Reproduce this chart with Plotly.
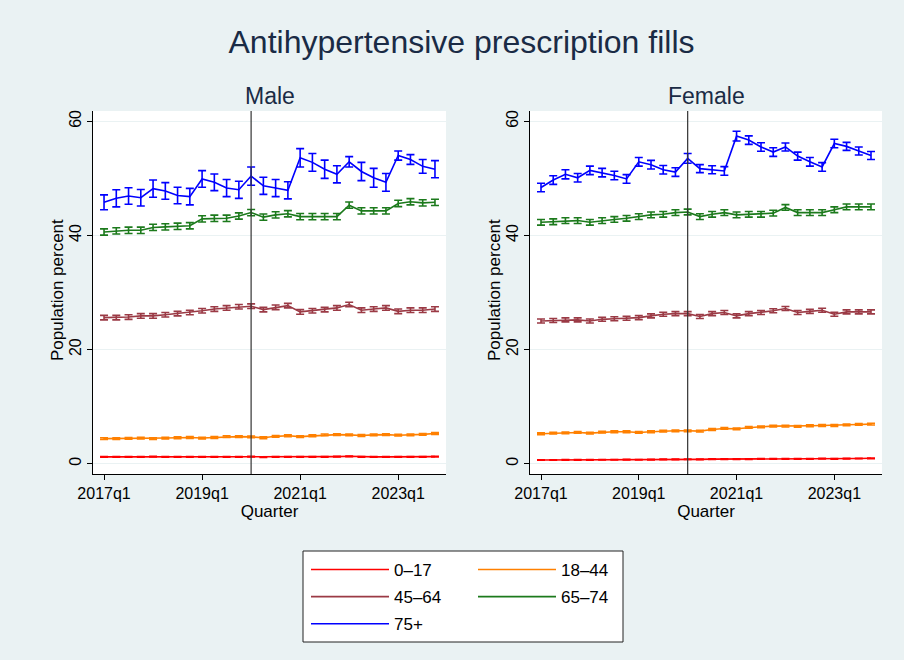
import plotly.graph_objects as go

quarters = [f"{y}q{q}" for y in range(2017, 2024) for q in range(1, 5)]
tick_labels = ["2017q1", "2019q1", "2021q1", "2023q1"]
policy_quarter = "2020q1"

groups = ["0–17", "18–44", "45–64", "65–74", "75+"]
colors = {"0–17": "#ff0000", "18–44": "#ff8000", "45–64": "#9b3a45",
          "65–74": "#1c7a1c", "75+": "#0000ff"}

male_0_17 = [1.2, 1.2, 1.2, 1.2, 1.25, 1.2, 1.2, 1.2, 1.2, 1.2, 1.2, 1.2, 1.25, 1.15, 1.2, 1.2,
             1.2, 1.2, 1.2, 1.25, 1.3, 1.2, 1.2, 1.2, 1.2, 1.2, 1.2, 1.25]
male_18_44 = [4.4, 4.4, 4.45, 4.5, 4.4, 4.5, 4.55, 4.6, 4.5, 4.6, 4.75, 4.75, 4.7, 4.55, 4.8, 4.9,
              4.75, 4.9, 5.05, 5.1, 5.05, 4.95, 5.05, 5.1, 5.0, 5.05, 5.15, 5.3]
male_45_64 = [25.6, 25.6, 25.7, 25.9, 25.9, 26.1, 26.3, 26.5, 26.8, 27.1, 27.3, 27.5, 27.6, 27.0,
              27.4, 27.7, 26.6, 26.8, 27.0, 27.3, 27.9, 26.9, 27.1, 27.3, 26.7, 26.9, 26.9, 27.1]
male_65_74 = [40.6, 40.8, 40.9, 40.9, 41.4, 41.5, 41.6, 41.7, 42.9, 43.0, 43.0, 43.4, 44.0, 43.2,
              43.6, 43.8, 43.3, 43.3, 43.3, 43.3, 45.3, 44.3, 44.3, 44.3, 45.6, 45.9, 45.7, 45.8]
male_75 = [45.8, 46.5, 46.9, 46.6, 48.2, 47.8, 47.0, 46.8, 49.9, 49.3, 48.3, 48.0, 50.4, 48.7,
           48.3, 47.9, 53.6, 52.8, 51.6, 50.7, 52.9, 51.2, 50.1, 49.3, 54.0, 53.3, 52.1, 51.6]

female_0_17 = [0.65, 0.65, 0.66, 0.68, 0.68, 0.7, 0.7, 0.72, 0.7, 0.72, 0.75, 0.76, 0.78, 0.76,
               0.8, 0.8, 0.82, 0.82, 0.84, 0.86, 0.86, 0.86, 0.86, 0.88, 0.86, 0.9, 0.92, 0.95]
female_18_44 = [5.25, 5.36, 5.42, 5.48, 5.36, 5.54, 5.6, 5.6, 5.48, 5.6, 5.72, 5.77, 5.77, 5.71,
                6.0, 6.18, 6.12, 6.36, 6.47, 6.59, 6.59, 6.53, 6.65, 6.7, 6.7, 6.82, 6.88, 6.94]
female_45_64 = [25.0, 25.1, 25.2, 25.2, 25.0, 25.3, 25.4, 25.5, 25.6, 25.9, 26.2, 26.3, 26.3, 25.8,
                26.3, 26.5, 25.9, 26.3, 26.5, 26.8, 27.2, 26.5, 26.7, 26.9, 26.2, 26.6, 26.6, 26.6]
female_65_74 = [42.3, 42.4, 42.6, 42.6, 42.3, 42.6, 42.8, 43.0, 43.3, 43.6, 43.7, 44.0, 44.1, 43.3,
                43.7, 44.0, 43.6, 43.7, 43.7, 43.9, 44.9, 44.0, 44.0, 44.0, 44.5, 45.0, 45.0, 45.0]
female_75 = [48.4, 49.7, 50.7, 50.1, 51.4, 51.0, 50.5, 49.9, 52.9, 52.4, 51.5, 51.1, 53.5, 51.7,
             51.5, 51.3, 57.4, 56.7, 55.5, 54.6, 55.5, 53.9, 52.9, 52.0, 56.1, 55.6, 54.8, 54.0]

# 95% CI half-widths
male_err_0_17 = [0.06] * 28
male_err_18_44 = [0.15] * 28
male_err_45_64 = [0.4] * 28
male_err_65_74 = [0.55] * 28
male_err_75 = [1.3, 1.5, 1.45, 1.45, 1.5, 1.45, 1.45, 1.45, 1.45, 1.45, 1.5, 1.5, 1.6, 1.5,
               1.5, 1.5, 1.6, 1.55, 1.6, 1.5, 0.9, 1.6, 1.65, 1.55, 0.8, 0.85, 1.2, 1.5]
female_err_0_17 = [0.05] * 28
female_err_18_44 = [0.15] * 28
female_err_45_64 = [0.35] * 28
female_err_65_74 = [0.5] * 28
female_err_75 = [0.75, 0.75, 0.8, 0.75, 0.75, 0.75, 0.75, 0.75, 0.75, 0.75, 0.75, 0.75, 0.85, 0.7,
                 0.7, 0.75, 0.85, 0.75, 0.75, 0.75, 0.7, 0.7, 0.75, 0.75, 0.75, 0.7, 0.7, 0.7]

male = {"0–17": (male_0_17, male_err_0_17), "18–44": (male_18_44, male_err_18_44),
        "45–64": (male_45_64, male_err_45_64), "65–74": (male_65_74, male_err_65_74),
        "75+": (male_75, male_err_75)}
female = {"0–17": (female_0_17, female_err_0_17), "18–44": (female_18_44, female_err_18_44),
          "45–64": (female_45_64, female_err_45_64), "65–74": (female_65_74, female_err_65_74),
          "75+": (female_75, female_err_75)}

FONT = "Liberation Sans, Arial, sans-serif"
BG = "#eaf2f3"
W, H = 904, 660

legend_of = {"0–17": "legend", "45–64": "legend", "75+": "legend",
             "18–44": "legend2", "65–74": "legend2"}

fig = go.Figure()
for panel, (data, xa, ya) in enumerate([(male, "x", "y"), (female, "x2", "y2")]):
    for g in groups:
        vals, err = data[g]
        fig.add_trace(go.Scatter(
            x=quarters, y=vals, mode="lines", name=g,
            line=dict(color=colors[g], width=1.6),
            error_y=dict(type="data", array=err, visible=True, color=colors[g],
                         thickness=1.6, width=4),
            xaxis=xa, yaxis=ya, legendgroup=g, showlegend=(panel == 0),
            legend=legend_of[g],
        ))

def px_x(p):
    return p / W

def px_y(p):
    return 1 - p / H

common_x = dict(type="category", range=[-0.9, 27.9], tickmode="array", tickvals=tick_labels,
                ticktext=tick_labels, showgrid=False, zeroline=False, showline=True,
                linecolor="#000000", linewidth=1, ticks="outside", ticklen=5,
                tickcolor="#000000", tickfont=dict(size=16, color="#000000"),
                title=dict(text="Quarter", font=dict(size=17, color="#000000"), standoff=1))
common_y = dict(range=[-1.8, 61.8], tickvals=[0, 20, 40, 60], showgrid=True,
                gridcolor="#eaf2f3", gridwidth=1, zeroline=False, showline=True,
                linecolor="#000000", linewidth=1, ticks="outside", ticklen=5,
                tickcolor="#000000", tickangle=-90, tickfont=dict(size=16, color="#000000"))

fig.update_layout(
    width=W, height=H, margin=dict(l=0, r=0, t=0, b=0, autoexpand=False),
    paper_bgcolor=BG, plot_bgcolor="#ffffff",
    font=dict(family=FONT, color="#000000"),
    title=dict(text="Antihypertensive prescription fills", x=461.5 / W, xanchor="center",
               y=px_y(42), yanchor="middle", font=dict(size=32, color="#1a2b45")),
    xaxis=dict(domain=[px_x(93), px_x(446)], anchor="y", **common_x),
    xaxis2=dict(domain=[px_x(530), px_x(882)], anchor="y2", **common_x),
    yaxis=dict(domain=[px_y(474), px_y(111)], anchor="x", **common_y),
    yaxis2=dict(domain=[px_y(474), px_y(111)], anchor="x2", **common_y),
    legend=dict(x=px_x(306), xanchor="left", y=px_y(552), yanchor="top",
                bgcolor="rgba(0,0,0,0)", borderwidth=0, itemwidth=78,
                font=dict(size=17, color="#000000"), tracegroupgap=2),
    legend2=dict(x=px_x(473), xanchor="left", y=px_y(552), yanchor="top",
                 bgcolor="rgba(0,0,0,0)", borderwidth=0, itemwidth=78,
                 font=dict(size=17, color="#000000"), tracegroupgap=2),
    showlegend=True,
)

# policy marker line at 2020q1 in each panel
for xa, ya in [("x", "y"), ("x2", "y2")]:
    fig.add_shape(type="line", xref=xa, yref=f"{ya} domain", x0=policy_quarter,
                  x1=policy_quarter, y0=0, y1=1, line=dict(color="#333333", width=1.2))

# legend frame
fig.add_shape(type="rect", xref="paper", yref="paper", x0=px_x(303), x1=px_x(623),
              y0=px_y(642), y1=px_y(551), fillcolor="#ffffff",
              line=dict(color="#222222", width=1), layer="below")

for text, cx in [("Male", 269.5), ("Female", 706)]:
    fig.add_annotation(text=text, x=px_x(cx), y=px_y(96), xref="paper", yref="paper",
                       xanchor="center", yanchor="middle", showarrow=False,
                       font=dict(size=23, color="#1a2b45"))

# y-axis titles
for cx in [57, 494]:
    fig.add_annotation(text="Population percent", x=px_x(cx), y=px_y(290), xref="paper",
                       yref="paper", xanchor="center", yanchor="middle", showarrow=False,
                       textangle=-90, font=dict(size=17, color="#000000"))

fig.write_html("out.html", config={"displayModeBar": False},
               post_script="document.body.style.margin='0';document.body.style.overflow='hidden';")
